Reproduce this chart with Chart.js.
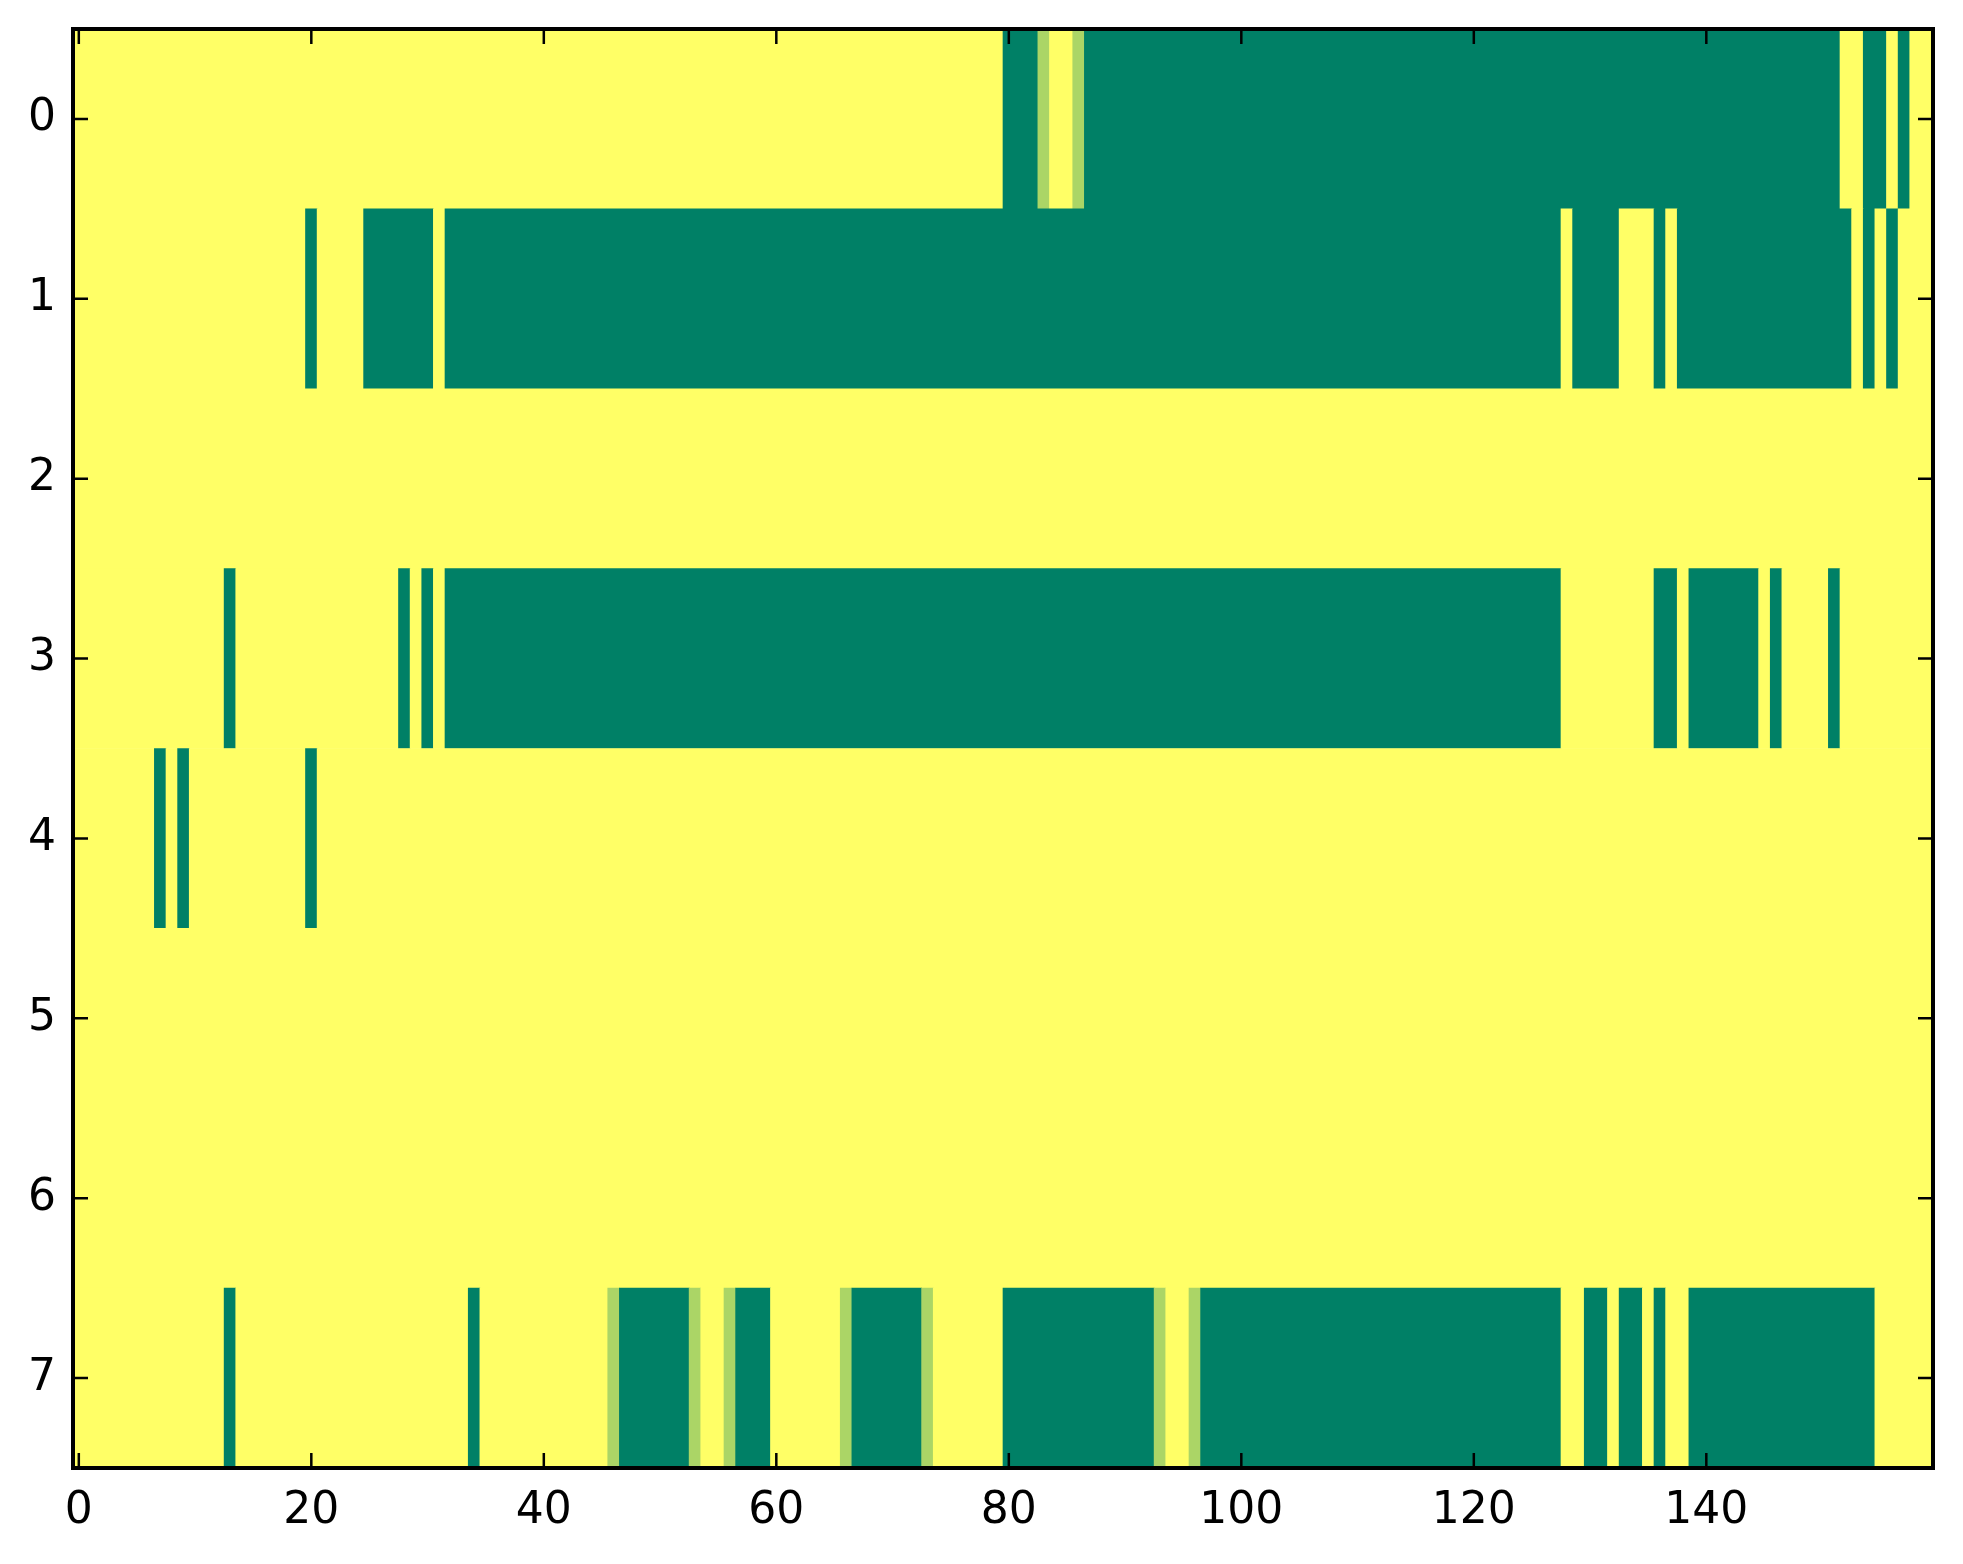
<!DOCTYPE html>
<html>
<head>
<meta charset="utf-8">
<script src="https://cdn.jsdelivr.net/npm/chart.js@4.4.1/dist/chart.umd.min.js"></script>
<style>
  html, body { margin: 0; padding: 0; background: #ffffff; }
  #wrap { width: 1963px; height: 1564px; position: relative; }
</style>
</head>
<body>
<div id="wrap"><canvas id="heat"></canvas></div>
<script>
// 8 rows x 160 columns, each row stored as runs of [value, count]
// value 1 = high (yellow), 0 = low (green), 0.67 = in between
const nCols = 160;
const rowLabels = ['0', '1', '2', '3', '4', '5', '6', '7'];
const xTicks = [0, 20, 40, 60, 80, 100, 120, 140];

const row0 = [[1, 80], [0, 3], [0.67, 1], [1, 2], [0.67, 1], [0, 65], [1, 2], [0, 2], [1, 1], [0, 1], [1, 2]];
const row1 = [[1, 20], [0, 1], [1, 4], [0, 6], [1, 1], [0, 96], [1, 1], [0, 4], [1, 3], [0, 1], [1, 1],
              [0, 15], [1, 1], [0, 1], [1, 1], [0, 1], [1, 3]];
const row2 = [[1, 160]];
const row3 = [[1, 13], [0, 1], [1, 14], [0, 1], [1, 1], [0, 1], [1, 1], [0, 96], [1, 8], [0, 2], [1, 1],
              [0, 6], [1, 1], [0, 1], [1, 4], [0, 1], [1, 8]];
const row4 = [[1, 7], [0, 1], [1, 1], [0, 1], [1, 10], [0, 1], [1, 139]];
const row5 = [[1, 160]];
const row6 = [[1, 160]];
const row7 = [[1, 13], [0, 1], [1, 20], [0, 1], [1, 11], [0.67, 1], [0, 6], [0.67, 1], [1, 2], [0.67, 1],
              [0, 3], [1, 6], [0.67, 1], [0, 6], [0.67, 1], [1, 6], [0, 13], [0.67, 1], [1, 2], [0.67, 1],
              [0, 31], [1, 2], [0, 2], [1, 1], [0, 2], [1, 1], [0, 1], [1, 2], [0, 16], [1, 5]];

const rows = [row0, row1, row2, row3, row4, row5, row6, row7];

// matplotlib "summer" colormap
function summer(v) {
    const r = Math.round(255 * v);
    const g = Math.round(255 * (0.5 + 0.5 * v));
    return `rgb(${r}, ${g}, 102)`;
}

const cells = [];
const colors = [];
rows.forEach(function (runs, r) {
    let col = 0;
    runs.forEach(function (run) {
        cells.push({ y: rowLabels[r], x: [col - 0.5, col + run[1] - 0.5] });
        colors.push(summer(run[0]));
        col += run[1];
    });
});

const frameTicks = {
    id: 'frameTicks',
    afterDraw(chart) {
        const ctx = chart.ctx;
        const { left, right, top, bottom } = chart.chartArea;
        const xs = chart.scales.x;
        const ys = chart.scales.y;
        const len = 15;
        ctx.save();
        ctx.strokeStyle = '#000000';
        ctx.lineWidth = 2.5;
        ctx.beginPath();
        xTicks.forEach(function (v) {
            const px = xs.getPixelForValue(v);
            ctx.moveTo(px, bottom); ctx.lineTo(px, bottom - len);
            ctx.moveTo(px, top); ctx.lineTo(px, top + len);
        });
        rowLabels.forEach(function (lab, i) {
            const py = ys.getPixelForValue(i);
            ctx.moveTo(left, py); ctx.lineTo(left + len, py);
            ctx.moveTo(right, py); ctx.lineTo(right - len, py);
        });
        ctx.stroke();
        ctx.lineWidth = 4;
        ctx.strokeRect(left, top, right - left, bottom - top);
        ctx.restore();
    }
};

const tickFont = { family: 'DejaVu Sans', size: 44 };

function noOverflow(axis) {
    axis.paddingTop = 0;
    axis.paddingBottom = 0;
    axis.paddingLeft = 0;
    axis.paddingRight = 0;
}

new Chart(document.getElementById('heat'), {
    type: 'bar',
    data: {
        labels: rowLabels,
        datasets: [{
            data: cells,
            backgroundColor: colors,
            borderWidth: 0,
            barPercentage: 1,
            categoryPercentage: 1
        }]
    },
    options: {
        indexAxis: 'y',
        responsive: true,
        maintainAspectRatio: false,
        animation: false,
        layout: { padding: { top: 29, right: 30, left: 0, bottom: 0 } },
        plugins: {
            legend: { display: false },
            tooltip: { enabled: false }
        },
        scales: {
            x: {
                type: 'linear',
                min: -0.5,
                max: nCols - 0.5,
                grid: { display: false },
                border: { display: false },
                afterBuildTicks: function (axis) {
                    axis.ticks = xTicks.map(function (v) { return { value: v }; });
                },
                afterFit: function (axis) { axis.height = 96; noOverflow(axis); },
                ticks: {
                    color: '#000000',
                    font: tickFont,
                    padding: 9,
                    maxRotation: 0,
                    callback: function (v) { return String(v); }
                }
            },
            y: {
                type: 'category',
                grid: { display: false, offset: true },
                border: { display: false },
                afterFit: function (axis) { axis.width = 73; noOverflow(axis); },
                ticks: {
                    color: '#000000',
                    font: tickFont,
                    padding: 9
                }
            }
        }
    },
    plugins: [frameTicks]
});
</script>
</body>
</html>
